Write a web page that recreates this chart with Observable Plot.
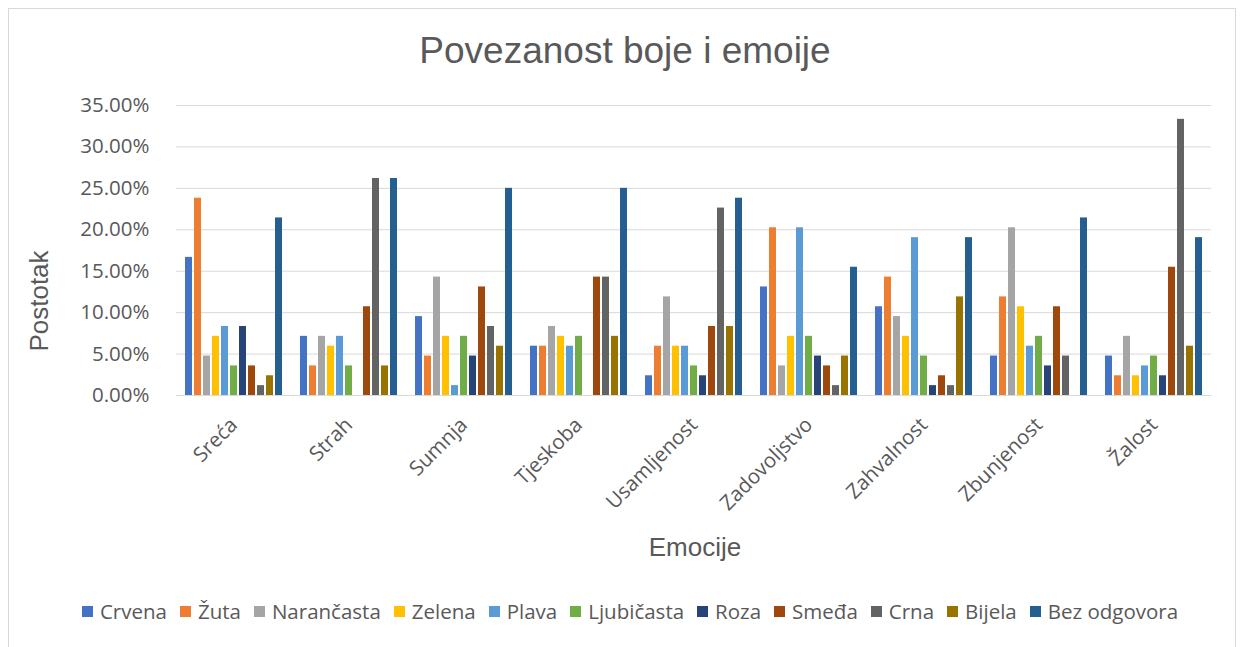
<!DOCTYPE html>
<html>
<head>
<meta charset="utf-8">
<script src="https://cdn.jsdelivr.net/npm/d3@7"></script>
<script src="https://cdn.jsdelivr.net/npm/@observablehq/plot@0.6"></script>
<style>
  html, body { margin: 0; padding: 0; background: #fff; }
  #wrap { position: relative; width: 1244px; height: 647px; overflow: hidden; }
  #frame { position: absolute; left: 8px; top: 8px; width: 1228px; height: 650px; border: 1px solid #d9d9d9; box-sizing: border-box; }
  #title { position: absolute; left: 0; width: 1250px; top: 30px; text-align: center; font-family: "Liberation Sans", Arial, sans-serif; font-size: 37px; color: #595959; }
  #ytitle { position: absolute; left: 39px; top: 301px; transform: translate(-50%, -50%) rotate(-90deg); font-family: "Liberation Sans", Arial, sans-serif; font-size: 26px; color: #595959; white-space: nowrap; }
  #xtitle { position: absolute; left: 695px; top: 547px; transform: translate(-50%, -50%); font-family: "Liberation Sans", Arial, sans-serif; font-size: 26px; color: #595959; white-space: nowrap; }
  #chart { position: absolute; left: 0; top: 80px; }
  #legend { position: absolute; left: 0; width: 1260px; top: 597px; display: flex; justify-content: center; font-family: "Open Sans", sans-serif; font-size: 20.5px; color: #595959; }
  .item { display: flex; align-items: center; margin: 0 6.5px; }
  .sw { width: 11px; height: 11px; margin-right: 7px; }
</style>
</head>
<body>
<div id="wrap">
  <div id="frame"></div>
  <div id="title">Povezanost boje i emoije</div>
  <div id="ytitle">Postotak</div>
  <div id="chart"></div>
  <div id="xtitle">Emocije</div>
  <div id="legend"></div>
</div>
<script>
const categories = ["Sreća", "Strah", "Sumnja", "Tjeskoba", "Usamljenost", "Zadovoljstvo", "Zahvalnost", "Zbunjenost", "Žalost"];
const seriesNames = ["Crvena", "Žuta", "Narančasta", "Zelena", "Plava", "Ljubičasta", "Roza", "Smeđa", "Crna", "Bijela", "Bez odgovora"];
const seriesColors = ["#4472C4", "#ED7D31", "#A5A5A5", "#FFC000", "#5B9BD5", "#70AD47", "#264478", "#9E480E", "#636363", "#997300", "#255E91"];

// percentages, one array per series, in category order
const Crvena      = [16.67, 7.14, 9.52, 5.95, 2.38, 13.10, 10.71, 4.76, 4.76];
const Zuta        = [23.81, 3.57, 4.76, 5.95, 5.95, 20.24, 14.29, 11.90, 2.38];
const Narancasta  = [4.76, 7.14, 14.29, 8.33, 11.90, 3.57, 9.52, 20.24, 7.14];
const Zelena      = [7.14, 5.95, 7.14, 7.14, 5.95, 7.14, 7.14, 10.71, 2.38];
const Plava       = [8.33, 7.14, 1.19, 5.95, 5.95, 20.24, 19.05, 5.95, 3.57];
const Ljubicasta  = [3.57, 3.57, 7.14, 7.14, 3.57, 7.14, 4.76, 7.14, 4.76];
const Roza        = [8.33, 0, 4.76, 0, 2.38, 4.76, 1.19, 3.57, 2.38];
const Smeda       = [3.57, 10.71, 13.10, 14.29, 8.33, 3.57, 2.38, 10.71, 15.48];
const Crna        = [1.19, 26.19, 8.33, 14.29, 22.62, 1.19, 1.19, 4.76, 33.33];
const Bijela      = [2.38, 3.57, 5.95, 7.14, 8.33, 4.76, 11.90, 0, 5.95];
const BezOdgovora = [21.43, 26.19, 25.00, 25.00, 23.81, 15.48, 19.05, 21.43, 19.05];

const yTicks = [0, 0.05, 0.10, 0.15, 0.20, 0.25, 0.30, 0.35];

const seriesValues = [Crvena, Zuta, Narancasta, Zelena, Plava, Ljubicasta, Roza, Smeda, Crna, Bijela, BezOdgovora];
const data = [];
categories.forEach((c, i) => {
  seriesNames.forEach((s, j) => {
    data.push({cat: c, series: s, value: seriesValues[j][i] / 100});
  });
});

const chart = Plot.plot({
  width: 1244,
  height: 450,
  marginLeft: 172,
  marginRight: 30,
  marginTop: 25,
  marginBottom: 135,
  style: {fontFamily: "'Open Sans', sans-serif", fontSize: "20.5px", color: "#595959", background: "transparent"},
  fx: {domain: categories, padding: 0, label: null},
  x: {domain: seriesNames, paddingInner: 0.18, paddingOuter: 0.75, axis: null},
  y: {domain: [0, 0.35], label: null},
  color: {domain: seriesNames, range: seriesColors},
  marks: [
    Plot.gridY(yTicks, {stroke: "#d9d9d9", strokeOpacity: 1, strokeWidth: 1}),
    Plot.axisY({ticks: yTicks, tickFormat: d => (d * 100).toFixed(2) + "%", tickSize: 0, tickPadding: 27, label: null, fill: "#595959"}),
    Plot.axisFx({anchor: "bottom", tickRotate: -45, tickSize: 0, tickPadding: 26, label: null, fill: "#595959"}),
    Plot.barY(data, {fx: "cat", x: "series", y: "value", fill: "series"})
  ]
});
document.getElementById("chart").appendChild(chart);

const legend = document.getElementById("legend");
seriesNames.forEach((s, j) => {
  const it = document.createElement("div");
  it.className = "item";
  const sw = document.createElement("div");
  sw.className = "sw";
  sw.style.background = seriesColors[j];
  const t = document.createElement("span");
  t.textContent = s;
  it.appendChild(sw);
  it.appendChild(t);
  legend.appendChild(it);
});
</script>
</body>
</html>
